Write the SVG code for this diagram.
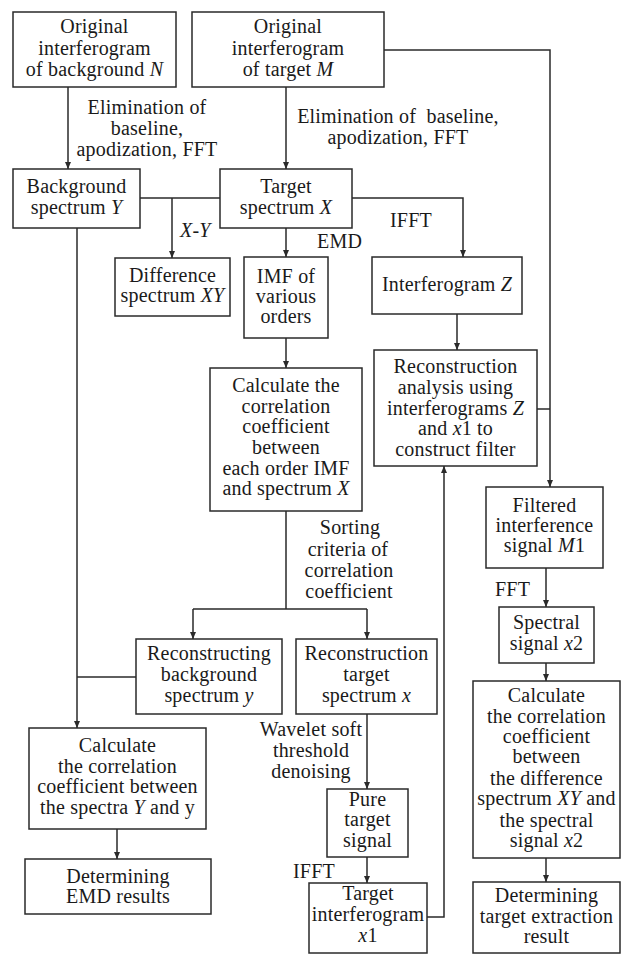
<svg xmlns="http://www.w3.org/2000/svg" width="626" height="954" viewBox="0 0 626 954">
<style>
.box{fill:#fff;stroke:#2a2a2a;stroke-width:1.5}
.ln{fill:none;stroke:#2a2a2a;stroke-width:1.5}
text{font-family:"Liberation Serif","Times New Roman",serif;font-size:20px;fill:#1a1a1a;letter-spacing:0.2px}
.c{text-anchor:middle}
.i{font-style:italic}
</style>
<defs>
<marker id="ah" markerUnits="userSpaceOnUse" markerWidth="8" markerHeight="6" refX="7" refY="3" orient="auto">
<path d="M0,0 L7,3 L0,6 z" fill="#2a2a2a"/>
</marker>
</defs>
<rect width="626" height="954" fill="#fff"/>
<g id="connectors">
<path class="ln" d="M68,87 V169" marker-end="url(#ah)"/>
<path class="ln" d="M286,87 V169" marker-end="url(#ah)"/>
<path class="ln" d="M140,198 H220"/>
<path class="ln" d="M172,198 V258" marker-end="url(#ah)"/>
<path class="ln" d="M352,198 H463 V257" marker-end="url(#ah)"/>
<path class="ln" d="M286,228 V257" marker-end="url(#ah)"/>
<path class="ln" d="M457,314 V350" marker-end="url(#ah)"/>
<path class="ln" d="M537,409 H550"/>
<path class="ln" d="M384,50 H550 V487" marker-end="url(#ah)"/>
<path class="ln" d="M286,338 V368" marker-end="url(#ah)"/>
<path class="ln" d="M286,511 V609 M193,609 H367"/>
<path class="ln" d="M193,609 V639" marker-end="url(#ah)"/>
<path class="ln" d="M367,609 V639" marker-end="url(#ah)"/>
<path class="ln" d="M77,228 V728" marker-end="url(#ah)"/>
<path class="ln" d="M77,677 H136"/>
<path class="ln" d="M117,829 V859" marker-end="url(#ah)"/>
<path class="ln" d="M367,714 V789" marker-end="url(#ah)"/>
<path class="ln" d="M367,857 V883" marker-end="url(#ah)"/>
<path class="ln" d="M427,917 H444 V466" marker-end="url(#ah)"/>
<path class="ln" d="M546,568 V607" marker-end="url(#ah)"/>
<path class="ln" d="M546,663 V681" marker-end="url(#ah)"/>
<path class="ln" d="M546,858 V882" marker-end="url(#ah)"/>
</g>
<g id="labels">
<text class="c" x="147" y="114">Elimination of</text>
<text class="c" x="147" y="135">baseline,</text>
<text class="c" x="147" y="156">apodization, FFT</text>
<text class="c" x="398" y="123" xml:space="preserve">Elimination of  baseline,</text>
<text class="c" x="398" y="144">apodization, FFT</text>
<text class="i" x="180" y="237">X-Y</text>
<text x="317" y="248">EMD</text>
<text x="390" y="227">IFFT</text>
<text class="c" x="350" y="534">Sorting</text>
<text class="c" x="348" y="556">criteria of</text>
<text class="c" x="349" y="577">correlation</text>
<text class="c" x="349" y="598">coefficient</text>
<text x="495" y="596">FFT</text>
<text class="c" x="311" y="736">Wavelet soft</text>
<text class="c" x="311" y="757">threshold</text>
<text class="c" x="311" y="778">denoising</text>
<text x="293" y="878">IFFT</text>
</g>
<g id="n1"><rect class="box" x="13" y="12" width="163" height="75"/>
<text class="c" x="94.5" y="33">Original</text><text class="c" x="94.5" y="55">interferogram</text><text class="c" x="94.5" y="76">of background <tspan class="i">N</tspan></text></g>
<g id="n2"><rect class="box" x="192" y="12" width="192" height="75"/>
<text class="c" x="288" y="33">Original</text><text class="c" x="288" y="55">interferogram</text><text class="c" x="288" y="76">of target <tspan class="i">M</tspan></text></g>
<g id="n3"><rect class="box" x="13" y="169" width="127" height="59"/>
<text class="c" x="76.5" y="193">Background</text><text class="c" x="76.5" y="214">spectrum <tspan class="i">Y</tspan></text></g>
<g id="n4"><rect class="box" x="220" y="169" width="132" height="59"/>
<text class="c" x="286" y="193">Target</text><text class="c" x="286" y="214">spectrum <tspan class="i">X</tspan></text></g>
<g id="n5"><rect class="box" x="115" y="258" width="115" height="58"/>
<text class="c" x="172.5" y="282">Difference</text><text class="c" x="172.5" y="302">spectrum <tspan class="i">XY</tspan></text></g>
<g id="n6"><rect class="box" x="244" y="257" width="84" height="81"/>
<text class="c" x="286" y="283">IMF of</text><text class="c" x="286" y="303">various</text><text class="c" x="286" y="323">orders</text></g>
<g id="n7"><rect class="box" x="372" y="257" width="150" height="57"/>
<text class="c" x="447" y="291">Interferogram <tspan class="i">Z</tspan></text></g>
<g id="n8"><rect class="box" x="374" y="350" width="163" height="116"/>
<text class="c" x="455.5" y="373">Reconstruction</text><text class="c" x="455.5" y="394">analysis using</text><text class="c" x="455.5" y="415">interferograms <tspan class="i">Z</tspan></text><text class="c" x="455.5" y="435">and <tspan class="i">x</tspan>1 to</text><text class="c" x="455.5" y="456">construct filter</text></g>
<g id="n9"><rect class="box" x="210" y="368" width="152" height="143"/>
<text class="c" x="286" y="392">Calculate the</text><text class="c" x="286" y="413">correlation</text><text class="c" x="286" y="433">coefficient</text><text class="c" x="286" y="454">between</text><text class="c" x="286" y="475">each order IMF</text><text class="c" x="286" y="495">and spectrum <tspan class="i">X</tspan></text></g>
<g id="n10"><rect class="box" x="136" y="639" width="146" height="75"/>
<text class="c" x="209" y="660">Reconstructing</text><text class="c" x="209" y="681">background</text><text class="c" x="209" y="702">spectrum <tspan class="i">y</tspan></text></g>
<g id="n11"><rect class="box" x="296" y="639" width="141" height="75"/>
<text class="c" x="366.5" y="660">Reconstruction</text><text class="c" x="366.5" y="681">target</text><text class="c" x="366.5" y="702">spectrum <tspan class="i">x</tspan></text></g>
<g id="n12"><rect class="box" x="29" y="728" width="177" height="101"/>
<text class="c" x="117.5" y="752">Calculate</text><text class="c" x="117.5" y="773">the correlation</text><text class="c" x="117.5" y="793">coefficient between</text><text class="c" x="117.5" y="814">the spectra <tspan class="i">Y</tspan> and y</text></g>
<g id="n13"><rect class="box" x="25" y="859" width="186" height="55"/>
<text class="c" x="118" y="883">Determining</text><text class="c" x="118" y="903">EMD results</text></g>
<g id="n14"><rect class="box" x="327" y="789" width="81" height="68"/>
<text class="c" x="367.5" y="806">Pure</text><text class="c" x="367.5" y="826">target</text><text class="c" x="367.5" y="847">signal</text></g>
<g id="n15"><rect class="box" x="309" y="883" width="118" height="70"/>
<text class="c" x="368" y="900">Target</text><text class="c" x="368" y="921">interferogram</text><text class="c" x="368" y="942"><tspan class="i">x</tspan>1</text></g>
<g id="n16"><rect class="box" x="486" y="487" width="117" height="81"/>
<text class="c" x="544.5" y="512">Filtered</text><text class="c" x="544.5" y="532">interference</text><text class="c" x="544.5" y="552">signal <tspan class="i">M</tspan>1</text></g>
<g id="n17"><rect class="box" x="499" y="607" width="95" height="56"/>
<text class="c" x="546.5" y="629">Spectral</text><text class="c" x="546.5" y="650">signal <tspan class="i">x</tspan>2</text></g>
<g id="n18"><rect class="box" x="473" y="681" width="147" height="177"/>
<text class="c" x="546.5" y="702">Calculate</text><text class="c" x="546.5" y="723">the correlation</text><text class="c" x="546.5" y="743">coefficient</text><text class="c" x="546.5" y="763">between</text><text class="c" x="546.5" y="785">the difference</text><text class="c" x="546.5" y="805">spectrum <tspan class="i">XY</tspan> and</text><text class="c" x="546.5" y="827">the spectral</text><text class="c" x="546.5" y="847">signal <tspan class="i">x</tspan>2</text></g>
<g id="n19"><rect class="box" x="473" y="882" width="147" height="71"/>
<text class="c" x="546.5" y="902">Determining</text><text class="c" x="546.5" y="923">target extraction</text><text class="c" x="546.5" y="943">result</text></g>
</svg>
